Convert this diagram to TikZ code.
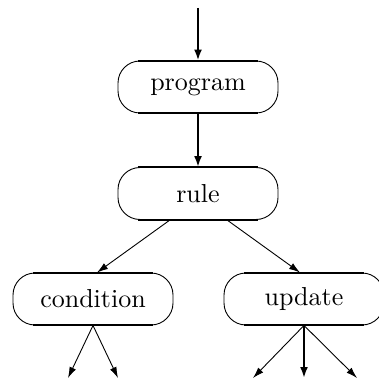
\documentclass[tikz,border=0pt]{standalone}
\usetikzlibrary{arrows.meta}
% labels in the 10pt design, enlarged
\newcommand{\boxlabel}[1]{\scalebox{2.6}{#1}}
\begin{document}
\begin{tikzpicture}[x=1pt,y=-1pt,
  box/.style={draw, rounded corners=22pt, minimum width=160pt, minimum height=52pt,
    inner sep=0pt, line width=0.9pt, font=\fontsize{10}{12}\selectfont},
  boxedge/.style={line width=2pt},
  thinarr/.style={line width=0.9pt, -{Latex[length=11pt,width=7pt]}},
  thickarr/.style={line width=2.3pt, -{Latex[length=11pt,width=8pt]}}]
\useasboundingbox (0,0) rectangle (378,379);

% boxes
\node[box] (program) at (198,87) {\boxlabel{program}};
\node[box] (rule) at (198,193.5) {\boxlabel{rule}};
\node[box] (cond) at (93,299) {\boxlabel{condition}};
\node[box] (upd) at (304,299) {\boxlabel{update}};

% heavier straight top and bottom edges
\foreach \n in {program,rule,cond,upd}{
  \draw[boxedge] ([xshift=20pt]\n.north west) -- ([xshift=-20pt]\n.north east);
  \draw[boxedge] ([xshift=20pt]\n.south west) -- ([xshift=-20pt]\n.south east);
}

% free ends
\coordinate (in) at (198,8);
\coordinate (c1) at (68,378);
\coordinate (c2) at (118,378);
\coordinate (u1) at (253,378);
\coordinate (u2) at (304,378);
\coordinate (u3) at (357,378);

% connectors
\draw[thickarr] (in) -- (program.north);
\draw[thickarr] (program.south) -- (rule.north);
\draw[thinarr] ([xshift=-28pt]rule.south) -- ([xshift=4pt]cond.north);
\draw[thinarr] ([xshift=29pt]rule.south) -- ([xshift=-4pt]upd.north);
\draw[thinarr] (cond.south) -- (c1);
\draw[thinarr] (cond.south) -- (c2);
\draw[thinarr] (upd.south) -- (u1);
\draw[thickarr] (upd.south) -- (u2);
\draw[thinarr] (upd.south) -- (u3);
\end{tikzpicture}
\end{document}
